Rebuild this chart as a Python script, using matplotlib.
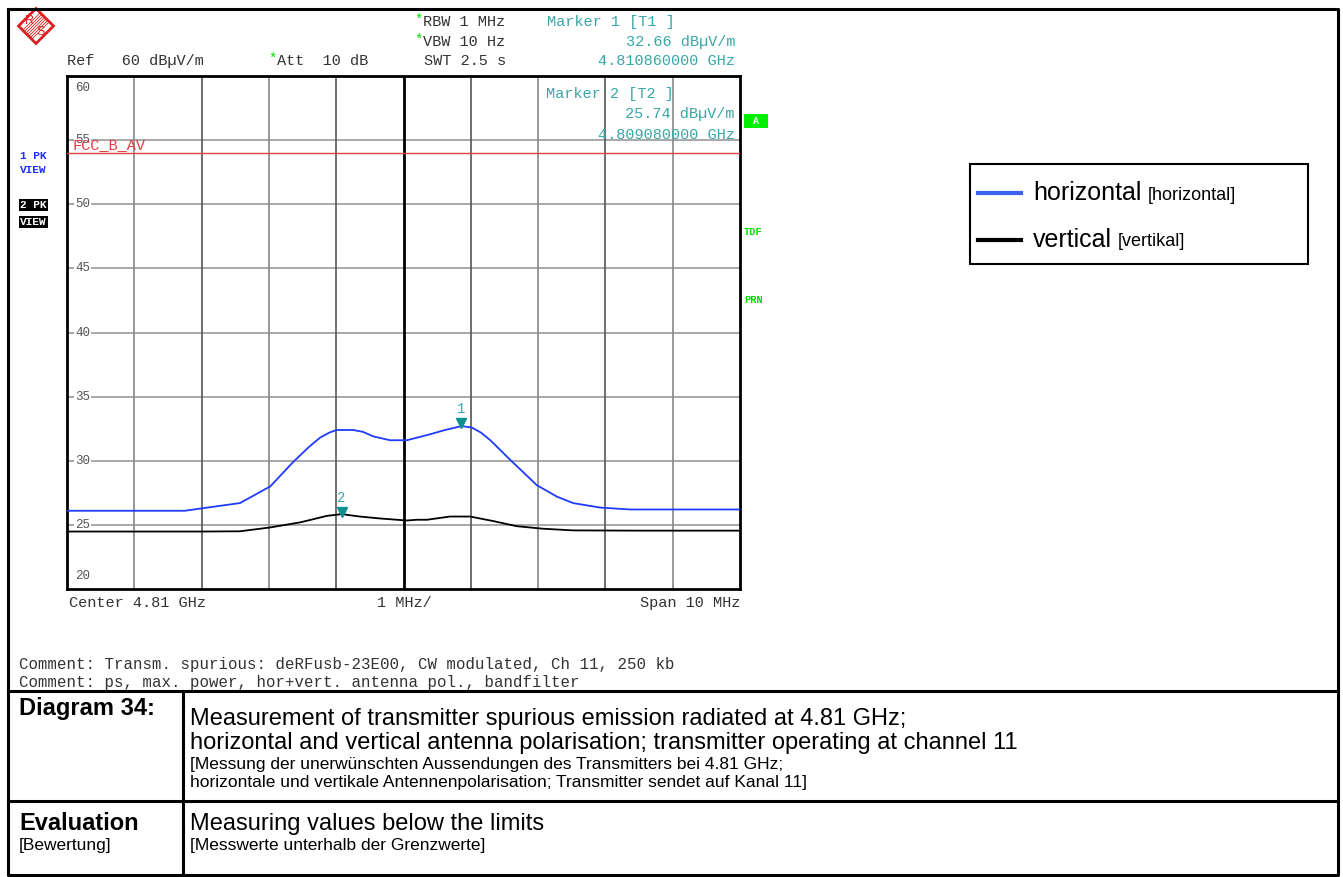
import matplotlib
matplotlib.use("Agg")
import matplotlib.pyplot as plt
from matplotlib.patches import Polygon, Rectangle
import numpy as np

# frequency offset from centre (MHz) and level (dBuV/m)
hor_f = [-5.0, -4.0, -3.25, -2.98, -2.43, -1.98, -1.64, -1.4, -1.24, -1.1, -0.99, -0.75, -0.6,
         -0.45, -0.2, 0.05, 0.35, 0.62, 0.86, 1.01, 1.15, 1.29, 1.58, 1.98, 2.28, 2.52, 2.92, 3.37,
         4.0, 5.0]
hor_lvl = [26.1, 26.1, 26.1, 26.3, 26.7, 28.0, 29.9, 31.1, 31.8, 32.2, 32.4, 32.4, 32.25,
           31.9, 31.6, 31.6, 32.0, 32.4, 32.7, 32.6, 32.2, 31.6, 30.1, 28.1, 27.2, 26.7, 26.35, 26.2,
           26.2, 26.2]
ver_f = [-5.0, -4.0, -3.0, -2.43, -1.98, -1.53, -1.14, -0.92, -0.65, -0.35, 0.05,
         0.2, 0.35, 0.69, 0.99, 1.33, 1.68, 2.07, 2.52, 3.5, 5.0]
ver_lvl = [24.48, 24.48, 24.48, 24.5, 24.8, 25.2, 25.7, 25.84, 25.65, 25.5, 25.34,
           25.4, 25.4, 25.65, 25.65, 25.3, 24.9, 24.7, 24.57, 24.55, 24.55]
marker_f = [0.86, -0.92]
marker_lvl = [32.66, 25.74]
marker_names = ["1", "2"]
limit_lvl = 54.0
y_ticks = [25, 30, 35, 40, 45, 50, 55]
legend_main = ["horizontal", "vertical"]
legend_de = ["[horizontal]", "[vertikal]"]
legend_colors = ["#3a64f0", "black"]

W, H = 1343, 877
fig = plt.figure(figsize=(W / 100, H / 100), dpi=100)

mono = "Liberation Mono"
sans = "Liberation Sans"
teal = "#3aa6a6"
green = "#00dd00"

# page overlay in pixel coordinates
pg = fig.add_axes([0, 0, 1, 1])
pg.set_xlim(0, W)
pg.set_ylim(H, 0)
pg.axis("off")

# spectrum screen
L, R, T, B = 67, 740, 76, 589
ax = fig.add_axes([L / W, 1 - B / H, (R - L) / W, (B - T) / H])
ax.set_xlim(-5, 5)
ax.set_ylim(20, 60)
ax.set_xticks([])
ax.set_yticks([])
for s in ax.spines.values():
    s.set_linewidth(2)
for y in y_ticks:
    ax.axhline(y, color="#999999", lw=1.2, zorder=1)
for x in range(-4, 5):
    if x == 0:
        ax.axvline(x, color="black", lw=2, zorder=1)
    else:
        ax.axvline(x, color="#555555" if x % 2 else "#888888", lw=1.2, zorder=1)
for y in y_ticks:
    ax.text(-4.88, y, str(y), fontsize=9, family=mono, color="#555555", va="center",
            ha="left", bbox=dict(facecolor="white", edgecolor="none", pad=0.5), zorder=2)
ax.text(-4.88, 59.1, "60", fontsize=9, family=mono, color="#555555", va="center")
ax.text(-4.88, 21.0, "20", fontsize=9, family=mono, color="#555555", va="center")

ax.axhline(limit_lvl, color="#e04040", lw=1, zorder=3)
ax.text(-4.92, limit_lvl + 0.05, "FCC_B_AV", fontsize=11, family=mono, color="#e04040",
        va="bottom", zorder=3)

ax.plot(hor_f, hor_lvl, color="#1f3bff", lw=1.3, zorder=4)
ax.plot(ver_f, ver_lvl, color="black", lw=1.3, zorder=4)
ax.plot(marker_f, np.array(marker_lvl) + 0.25, "v", color="#108f8f", ms=7, zorder=5)
for f, lv, n in zip(marker_f, marker_lvl, marker_names):
    ax.text(f, lv + 0.8, n, fontsize=10, family=mono, color=teal, ha="center", va="bottom")

ax.text(2.12, 58.6, "Marker 2 [T2 ]", fontsize=11, family=mono, color=teal, va="center")
ax.text(4.92, 57.0, "25.74 dB\u00b5V/m", fontsize=11, family=mono, color=teal, va="center", ha="right")
ax.text(4.92, 55.4, "4.809080000 GHz", fontsize=11, family=mono, color=teal, va="center", ha="right")

# header texts
def txt(x, y, s, **kw):
    kw.setdefault("fontsize", 11)
    kw.setdefault("family", mono)
    kw.setdefault("color", "#333333")
    kw.setdefault("va", "center")
    return pg.text(x, y, s, **kw)

txt(67, 61, "Ref   60 dB\u00b5V/m")
txt(268, 59, "*", color=green, fontsize=10)
txt(277, 61, "Att  10 dB")
txt(414, 20, "*", color=green, fontsize=10)
txt(423, 22, "RBW 1 MHz")
txt(414, 40, "*", color=green, fontsize=10)
txt(423, 42, "VBW 10 Hz")
txt(424, 61, "SWT 2.5 s")
txt(547, 22, "Marker 1 [T1 ]", color=teal)
txt(735, 42, "32.66 dB\u00b5V/m", color=teal, ha="right")
txt(735, 61, "4.810860000 GHz", color=teal, ha="right")

txt(69, 603, "Center 4.81 GHz")
txt(377, 603, "1 MHz/")
txt(740, 603, "Span 10 MHz", ha="right")

txt(20, 156, "1 PK", color="#2030ff", fontsize=8, weight="bold")
txt(20, 170, "VIEW", color="#2030ff", fontsize=8, weight="bold")
txt(20, 205, "2 PK", color="white", fontsize=8, weight="bold",
    bbox=dict(facecolor="black", edgecolor="none", pad=1))
txt(20, 222, "VIEW", color="white", fontsize=8, weight="bold",
    bbox=dict(facecolor="black", edgecolor="none", pad=1))
pg.add_patch(Rectangle((744, 114), 24, 14, facecolor="#00ee00", edgecolor="none"))
txt(756, 121, "A", color="white", fontsize=7, weight="bold", ha="center")
txt(744, 232, "TDF", color=green, fontsize=7.5, weight="bold")
txt(744, 300, "PRN", color=green, fontsize=7.5, weight="bold")

# R&S logo
cx, cy, hd = 36, 26, 17.5
pg.add_patch(Polygon([(cx, cy - hd), (cx + hd, cy), (cx, cy + hd), (cx - hd, cy)], closed=True,
                     facecolor="white", edgecolor="#dd2020", lw=2))
for k in range(-3, 4):
    pg.plot([cx - 9 + k * 1.5, cx + 9 + k * 1.5], [cy + 9 + k * 1.5, cy - 9 + k * 1.5],
            color="#dd2020", lw=0.6)
txt(cx - 6, cy - 5, "R", color="#dd2020", fontsize=9, family=sans, ha="center")
txt(cx + 5, cy + 6, "S", color="#dd2020", fontsize=9, family=sans, ha="center")

# legend
pg.add_patch(Rectangle((970, 164), 338, 100, facecolor="white", edgecolor="black", lw=1.5))
fig.canvas.draw()
rend = fig.canvas.get_renderer()
for i, (m, d, c) in enumerate(zip(legend_main, legend_de, legend_colors)):
    yy = 193 + i * 47
    pg.plot([978, 1021], [yy, yy], color=c, lw=3)
    t = pg.text(1033, yy, m, fontsize=18, family=sans, va="center")
    bb = t.get_window_extent(renderer=rend)
    xr = pg.transData.inverted().transform((bb.x1, 0))[0]
    pg.text(xr + 6, yy + 2, d, fontsize=13, family=sans, va="center")

# comments
txt(19, 665, "Comment: Transm. spurious: deRFusb-23E00, CW modulated, Ch 11, 250 kb", fontsize=11.3)
txt(19, 683, "Comment: ps, max. power, hor+vert. antenna pol., bandfilter", fontsize=11.3)

# table frame
lk = dict(color="black", lw=2.2, solid_capstyle="projecting")
pg.plot([8, 1338, 1338, 8, 8], [9, 9, 875, 875, 9], **lk)
pg.plot([8, 1338], [691, 691], **lk)
pg.plot([8, 1338], [801, 801], **lk)
pg.plot([183, 183], [691, 875], **lk)

big, small = 17, 12.5
pg.text(19, 715, "Diagram 34:", fontsize=big, family=sans, weight="bold", va="baseline")
pg.text(190, 725, "Measurement of transmitter spurious emission radiated at 4.81 GHz;",
        fontsize=big, family=sans, va="baseline")
pg.text(190, 749, "horizontal and vertical antenna polarisation; transmitter operating at channel 11",
        fontsize=big, family=sans, va="baseline")
pg.text(190, 769, "[Messung der unerw\u00fcnschten Aussendungen des Transmitters bei 4.81 GHz;",
        fontsize=small, family=sans, va="baseline")
pg.text(190, 787, "horizontale und vertikale Antennenpolarisation; Transmitter sendet auf Kanal 11]",
        fontsize=small, family=sans, va="baseline")
pg.text(19, 830, "Evaluation", fontsize=big, family=sans, weight="bold", va="baseline")
pg.text(19, 850, "[Bewertung]", fontsize=small, family=sans, va="baseline")
pg.text(190, 830, "Measuring values below the limits", fontsize=big, family=sans, va="baseline")
pg.text(190, 850, "[Messwerte unterhalb der Grenzwerte]", fontsize=small, family=sans, va="baseline")

fig.savefig("out.png", dpi=100)
